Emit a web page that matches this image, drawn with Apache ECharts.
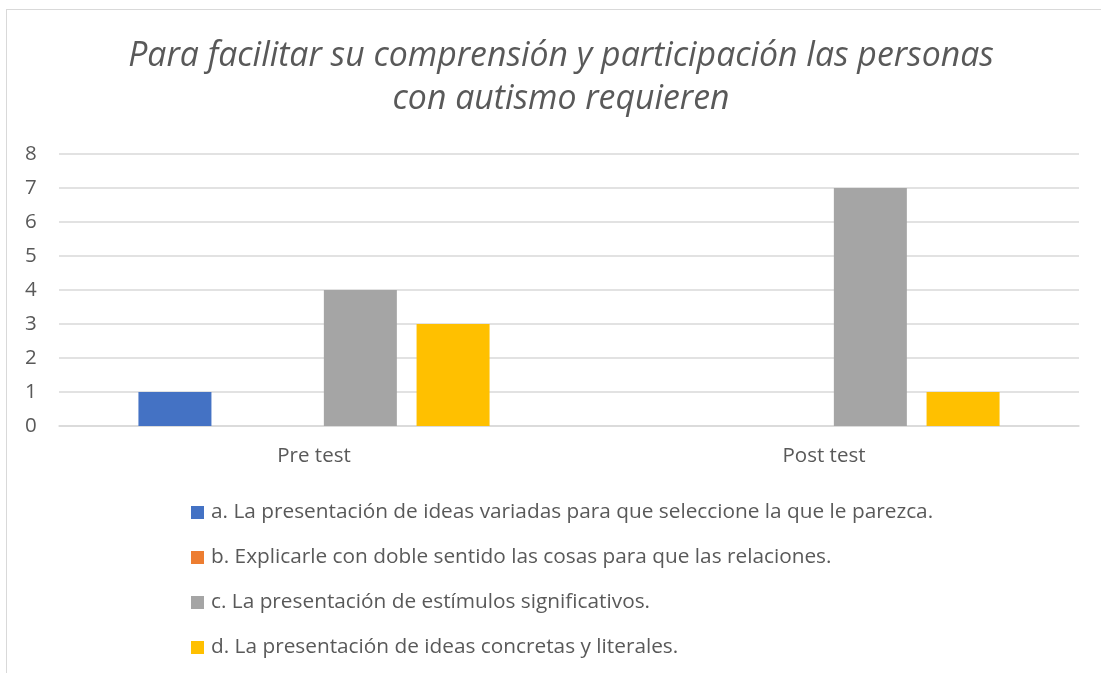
<!DOCTYPE html>
<html>
<head>
<meta charset="utf-8">
<script src="https://cdn.jsdelivr.net/npm/echarts@6/dist/echarts.min.js"></script>
<style>
  html, body { margin: 0; padding: 0; background: #fff; overflow: hidden; }
  #chart { position: absolute; left: 6px; top: 9px; width: 1110px; height: 680px;
           border: 1px solid #d9d9d9; box-sizing: border-box; }
</style>
</head>
<body>
<div id="chart"></div>
<script>
var categories = ['Pre test', 'Post test']
var seriesNames = [
  'a. La presentación de ideas variadas para que seleccione la que le parezca.',
  'b. Explicarle con doble sentido las cosas para que las relaciones.',
  'c. La presentación de estímulos significativos.',
  'd. La presentación de ideas concretas y literales.'
]
var valuesA = [1, 0]
var valuesB = [0, 0]
var valuesC = [4, 7]
var valuesD = [3, 1]
var colors = ['#4472C4', '#ED7D31', '#A5A5A5', '#FFC000']

var font = '"Open Sans", "Noto Sans", sans-serif'
var chart = echarts.init(document.getElementById('chart'))

var allValues = [valuesA, valuesB, valuesC, valuesD]
var series = seriesNames.map(function (name, i) {
  return {
    name: name,
    type: 'bar',
    data: allValues[i],
    barWidth: 73,
    barGap: '27%',
    itemStyle: {color: colors[i]}
  }
})

chart.setOption({
  animation: false,
  title: {
    text: 'Para facilitar su comprensión y participación las personas\ncon autismo requieren',
    left: 'center',
    top: 20,
    padding: [5, 12, 5, 5],
    textStyle: {
      fontFamily: font,
      fontStyle: 'italic',
      fontWeight: 'normal',
      fontSize: 33.8,
      lineHeight: 43,
      color: '#595959'
    }
  },
  legend: {
    orient: 'vertical',
    left: 179,
    top: 487,
    itemWidth: 13,
    itemHeight: 13,
    itemGap: 24,
    icon: 'rect',
    textStyle: {fontFamily: font, fontSize: 20.8, lineHeight: 20, color: '#595959', padding: [0, 0, 0, 2]},
    data: seriesNames
  },
  grid: {left: 52, right: 36, top: 144, bottom: 262},
  xAxis: {
    type: 'category',
    data: categories,
    axisLine: {lineStyle: {color: '#d9d9d9', width: 1.5}},
    axisTick: {show: false},
    axisLabel: {fontFamily: font, fontSize: 20.5, color: '#595959', margin: 20}
  },
  yAxis: {
    type: 'value',
    min: 0,
    max: 8,
    interval: 1,
    axisLine: {show: false},
    axisTick: {show: false},
    axisLabel: {fontFamily: font, fontSize: 20.5, color: '#595959', margin: 34, align: 'left'},
    splitLine: {lineStyle: {color: '#d9d9d9', width: 1.5}}
  },
  series: series
})
</script>
</body>
</html>
